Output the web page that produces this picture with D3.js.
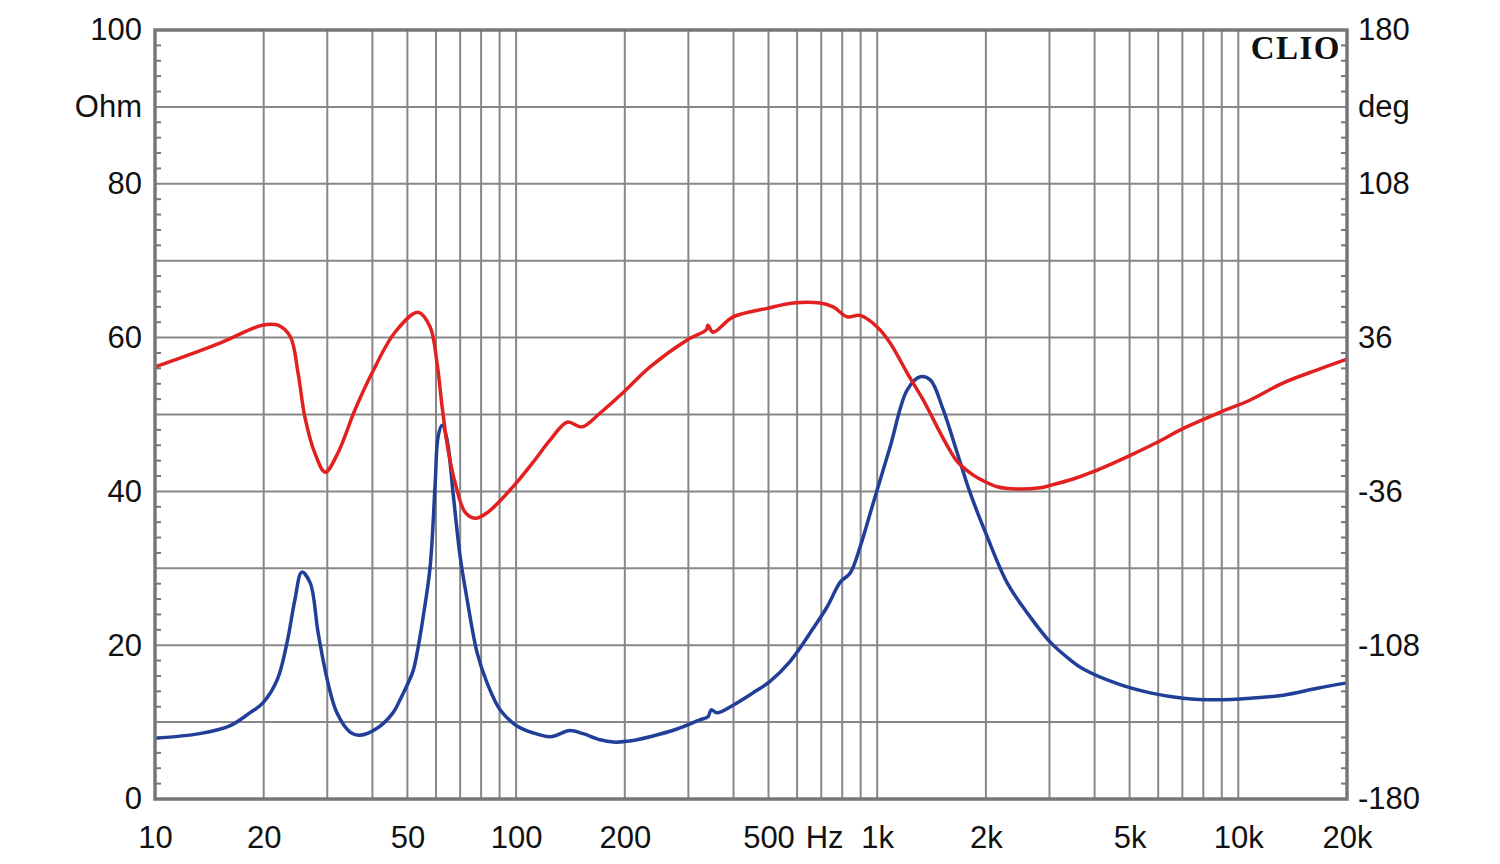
<!DOCTYPE html>
<html><head><meta charset="utf-8">
<script src="https://cdn.jsdelivr.net/npm/d3@7"></script>
<style>body{margin:0;background:#fff}svg{display:block}</style>
</head><body><svg id="c" width="1500" height="864"></svg>
<script>
// Impedance magnitude (Ohm) vs frequency (Hz)
const blueFreq = [10,13.3,16.1,18.3,19.9,21.8,23.2,24.4,25.5,26.9,28.3,30.0,31.9,34.7,37.0,41.2,45.6,47.7,51.8,53.2,55.3,57.8,59.7,60.8,62.4,64.4,66.9,70.0,73.2,78.0,83.1,90.3,100.6,111.5,124.3,141.1,153.3,170.9,185.7,203,235,279,323,340,347,360,399,453,505,574,665,727,790,842,897,975,1086,1211,1316,1403,1524,1666,1809,2017,2291,2603,3015,3424,3721,4622,5705,7041,8746,10794,13326,16556,20000];
const blueOhm  = [7.9,8.5,9.5,11.2,12.5,15.5,20.3,25.9,29.5,28.1,21.6,15.5,11.2,8.7,8.3,9.2,11.2,12.9,16.6,19.0,23.7,30.2,41.1,47.1,48.6,46.7,39.8,31.5,25.9,19.0,15.1,11.6,9.5,8.6,8.1,8.9,8.5,7.7,7.4,7.5,8.1,9.1,10.3,10.7,11.6,11.2,12.2,13.8,15.3,17.9,22.2,25.0,28.2,29.4,32.8,38.5,45.8,53.2,54.9,54.5,50.6,45.0,39.8,34.1,28.1,24.2,20.4,18.1,16.9,15.0,13.8,13.1,12.9,13.1,13.5,14.4,15.1];
// Impedance phase (deg) vs frequency (Hz)
const redFreq = [10,12.3,15.3,19.8,21.9,23.7,24.9,26.0,27.7,29.6,32.1,35.8,39.9,46.2,53.5,57.8,60.4,62.4,64.8,67.8,72.2,77.0,83.6,98.1,111.5,124.3,138.5,152.3,170.9,194.2,235,297.7,336,340,351,399,496,585,695,755,826,897,1000,1086,1211,1341,1495,1593,1666,1845,1966,2150,2442,2828,3015,3491,3965,5023,5966,7041,8915,10794,13326,16556,20000];
const redDeg  = [22.3,27.7,33.8,41.8,41.8,36.4,19.4,-1.1,-18.0,-27.0,-18.0,2.2,19.4,38.5,47.9,41.0,24.1,3.6,-16.6,-32.0,-45.7,-48.6,-45.7,-33.8,-22.3,-11.9,-3.6,-5.8,0.7,9.0,22.3,34.9,39.6,41.8,38.5,45.7,49.7,52.2,52.2,50.4,45.7,46.4,41.0,33.5,19.4,6.8,-8.6,-17.0,-22.0,-28.4,-31.0,-33.8,-34.9,-34.3,-33.2,-30.2,-26.8,-19.1,-13.0,-6.5,1.1,6.8,14.8,20.9,25.9];
const xTickValues = [10,20,50,100,200,500,1000,2000,5000,10000,20000];
const xTickLabels = ["10","20","50","100","200","500","1k","2k","5k","10k","20k"];
const leftTicks = [0,20,40,60,80,100];
const rightTicks = [-180,-108,-36,36,108,180];

const L=155, R=1347, T=30, B=799;
const svg = d3.select("#c");
const x = d3.scaleLog().domain([10,20000]).range([L,R]);
const y = d3.scaleLinear().domain([0,100]).range([B,T]);
const yDeg = d3.scaleLinear().domain([-180,180]).range([B,T]);
const font = "'Liberation Sans', Arial, sans-serif";
const gridColor = "#878787";

// vertical grid
const vgrid = [];
[10,100,1000,10000].forEach(d => { for (let m=1;m<10;m++){ const f=d*m; if (f>10 && f<20000) vgrid.push(f);} });
svg.append("g").selectAll("line").data(vgrid).join("line")
  .attr("x1",d=>x(d)).attr("x2",d=>x(d)).attr("y1",T).attr("y2",B)
  .attr("stroke",gridColor).attr("stroke-width",2);
// horizontal grid
svg.append("g").selectAll("line").data(d3.range(10,100,10)).join("line")
  .attr("x1",L).attr("x2",R).attr("y1",d=>y(d)).attr("y2",d=>y(d))
  .attr("stroke",gridColor).attr("stroke-width",2);
// minor ticks
const minor = d3.range(2,100,2).filter(d=>d%10!==0);
svg.append("g").selectAll("line").data(minor).join("line")
  .attr("x1",L).attr("x2",L+6).attr("y1",d=>y(d)).attr("y2",d=>y(d))
  .attr("stroke","#777").attr("stroke-width",2);
svg.append("g").selectAll("line").data(minor).join("line")
  .attr("x1",R-6).attr("x2",R).attr("y1",d=>y(d)).attr("y2",d=>y(d))
  .attr("stroke","#777").attr("stroke-width",2);

// curves
const line = d3.line().curve(d3.curveCatmullRom.alpha(0.5));
svg.append("path")
  .attr("d", line(blueFreq.map((f,i)=>[x(f), y(blueOhm[i])])))
  .attr("fill","none").attr("stroke","#213f98").attr("stroke-width",3.5).attr("stroke-linejoin","round");
svg.append("path")
  .attr("d", line(redFreq.map((f,i)=>[x(f), yDeg(redDeg[i])])))
  .attr("fill","none").attr("stroke","#e2201f").attr("stroke-width",3.5).attr("stroke-linejoin","round");

// frame
svg.append("rect").attr("x",L).attr("y",T).attr("width",R-L).attr("height",B-T)
  .attr("fill","none").attr("stroke","#777").attr("stroke-width",3.5);

// axes
function styleAxis(g){
  g.select(".domain").remove();
  g.selectAll(".tick line").remove();
  g.selectAll("text").attr("font-family",font).attr("font-size",31).attr("fill","#111");
}
svg.append("g").attr("transform",`translate(0,${B})`)
  .call(d3.axisBottom(x).tickValues(xTickValues).tickFormat((d,i)=>xTickLabels[i]).tickSize(0).tickPadding(27))
  .call(styleAxis);
svg.append("g").attr("transform",`translate(${L},0)`)
  .call(d3.axisLeft(y).tickValues(leftTicks).tickFormat(d=>String(d)).tickSize(0).tickPadding(13))
  .call(styleAxis);
svg.append("g").attr("transform",`translate(${R},0)`)
  .call(d3.axisRight(yDeg).tickValues(rightTicks).tickFormat(d=>String(d)).tickSize(0).tickPadding(11))
  .call(styleAxis);

// unit labels
svg.append("text").attr("x",L-13).attr("y",y(90)).attr("dy","0.32em").attr("text-anchor","end")
  .attr("font-family",font).attr("font-size",31).attr("fill","#111").text("Ohm");
svg.append("text").attr("x",R+11).attr("y",y(90)).attr("dy","0.32em").attr("text-anchor","start")
  .attr("font-family",font).attr("font-size",31).attr("fill","#111").text("deg");
svg.append("text").attr("x",x(715)).attr("y",B+27).attr("dy","0.71em").attr("text-anchor","middle")
  .attr("font-family",font).attr("font-size",31).attr("fill","#111").text("Hz");
svg.append("text").attr("x",R-6).attr("y",59).attr("text-anchor","end")
  .attr("font-family","'Liberation Serif', 'DejaVu Serif', serif").attr("font-weight","bold")
  .attr("font-size",33).attr("letter-spacing",1.5).attr("fill","#111").text("CLIO");
</script></body></html>
